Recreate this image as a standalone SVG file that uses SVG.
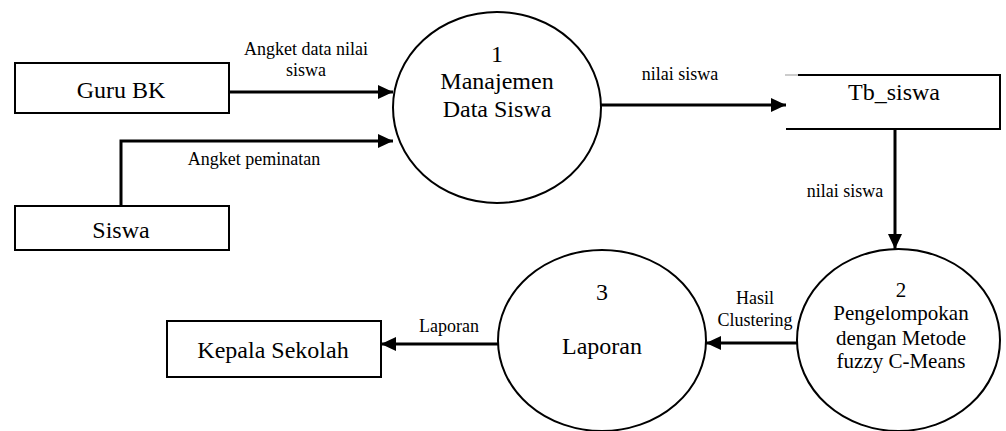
<svg xmlns="http://www.w3.org/2000/svg" width="1006" height="431" viewBox="0 0 1006 431">
  <style>
    .shape { fill: #ffffff; stroke: #000000; stroke-width: 2; }
    .flow { fill: none; stroke: #000000; stroke-width: 3; }
    text { font-family: 'Liberation Serif', 'DejaVu Serif', serif; fill: #000000; text-anchor: middle; }
    .main { font-size: 24px; }
    .proc2 { font-size: 21px; }
    .label { font-size: 18px; }
  </style>
  <defs>
    <marker id="arrow" markerUnits="userSpaceOnUse" markerWidth="16" markerHeight="16" refX="15" refY="7" orient="auto">
      <path d="M0,0 L15,7 L0,14 Z" fill="#000000"/>
    </marker>
  </defs>
  <rect width="1006" height="431" fill="#ffffff"/>

  <!-- External entities -->
  <g id="guru-bk">
    <rect class="shape" x="15" y="63" width="214" height="50"/>
    <text class="main" x="121" y="98">Guru BK</text>
  </g>
  <g id="siswa">
    <rect class="shape" x="15" y="206" width="214" height="44"/>
    <text class="main" x="121" y="238">Siswa</text>
  </g>
  <g id="kepala-sekolah">
    <rect class="shape" x="167" y="321" width="214" height="56"/>
    <text class="main" x="273" y="358">Kepala Sekolah</text>
  </g>

  <!-- Data store -->
  <g id="tb-siswa">
    <path d="M798,75 H1000 V129 H786" fill="none" stroke="#000000" stroke-width="2"/>
    <path d="M785,75 H798" fill="none" stroke="#bbbbbb" stroke-width="1.5"/>
    <text class="main" x="894" y="100">Tb_siswa</text>
  </g>

  <!-- Processes -->
  <g id="proses-1">
    <ellipse class="shape" cx="497" cy="107.5" rx="104" ry="95.5"/>
    <text class="main" x="497" y="62">1</text>
    <text class="main" x="497" y="89">Manajemen</text>
    <text class="main" x="497" y="117">Data Siswa</text>
  </g>
  <g id="proses-2">
    <ellipse class="shape" cx="898.5" cy="340" rx="101.5" ry="91"/>
    <text class="proc2" x="901" y="297">2</text>
    <text class="proc2" x="901" y="320">Pengelompokan</text>
    <text class="proc2" x="901" y="345">dengan Metode</text>
    <text class="proc2" x="901" y="368">fuzzy C-Means</text>
  </g>
  <g id="proses-3">
    <ellipse class="shape" cx="602" cy="340.5" rx="104" ry="90.5"/>
    <text class="main" x="602" y="300">3</text>
    <text class="main" x="602" y="354">Laporan</text>
  </g>

  <!-- Data flows -->
  <g id="connectors">
    <path class="flow" d="M229,92 H393" marker-end="url(#arrow)"/>
    <path class="flow" d="M121,206 V141 H393" marker-end="url(#arrow)"/>
    <path class="flow" d="M601,105 H786" marker-end="url(#arrow)"/>
    <path class="flow" d="M895,129 V249" marker-end="url(#arrow)"/>
    <path class="flow" d="M797,343 H706" marker-end="url(#arrow)"/>
    <path class="flow" d="M499,344 H381" marker-end="url(#arrow)"/>

    <text class="label" x="306" y="55">Angket data nilai</text>
    <text class="label" x="306" y="76">siswa</text>
    <text class="label" x="254" y="165">Angket peminatan</text>
    <text class="label" x="680" y="80">nilai siswa</text>
    <text class="label" x="845" y="197">nilai siswa</text>
    <text class="label" x="755" y="304">Hasil</text>
    <text class="label" x="755" y="326">Clustering</text>
    <text class="label" x="449" y="332">Laporan</text>
  </g>
</svg>
